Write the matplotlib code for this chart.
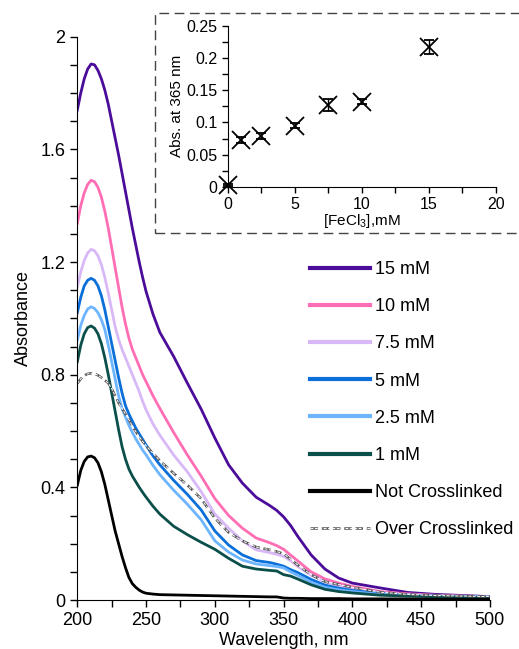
import numpy as np
import matplotlib
matplotlib.use("Agg")
import matplotlib.pyplot as plt
from matplotlib.patches import Rectangle
from matplotlib.ticker import MultipleLocator

plt.rcParams['font.family'] = ['Liberation Sans', 'DejaVu Sans']
plt.rcParams['mathtext.fontset'] = 'custom'
plt.rcParams['mathtext.rm'] = 'Liberation Sans'

# spectra
wavelength = [200, 202.5, 205, 207.5, 210, 212.5, 215, 217.5, 220, 222.5, 225, 227.5, 230,
              232.5, 235, 237.5, 240, 242.5, 245, 247.5, 250, 255,
              260, 270, 280, 290, 300, 310, 320, 330, 340, 345, 350, 355, 360, 370, 380,
              390, 400, 420, 440, 460, 480, 500]

abs_15 = [1.74, 1.80, 1.85, 1.885, 1.903, 1.90, 1.88, 1.85, 1.81, 1.76, 1.70, 1.64, 1.58,
          1.515, 1.45, 1.385, 1.32, 1.26, 1.20, 1.145, 1.095, 1.015,
          0.95, 0.865, 0.77, 0.678, 0.575, 0.48, 0.415, 0.365, 0.335, 0.318, 0.295, 0.265, 0.228, 0.16, 0.11,
          0.078, 0.06, 0.043, 0.027, 0.02, 0.016, 0.012]
abs_10 = [1.337, 1.40, 1.445, 1.475, 1.49, 1.485, 1.465, 1.43, 1.38, 1.32, 1.25, 1.18, 1.11,
          1.04, 0.98, 0.93, 0.89, 0.86, 0.83, 0.80, 0.775, 0.725,
          0.68, 0.595, 0.515, 0.44, 0.36, 0.30, 0.255, 0.22, 0.203, 0.193, 0.18, 0.16, 0.14, 0.10, 0.075,
          0.06, 0.048, 0.03, 0.022, 0.017, 0.014, 0.012]
abs_7_5 = [1.112, 1.165, 1.205, 1.232, 1.245, 1.24, 1.222, 1.19, 1.145, 1.09, 1.03, 0.97, 0.925,
           0.89, 0.86, 0.83, 0.80, 0.77, 0.74, 0.705, 0.675, 0.625,
           0.585, 0.515, 0.455, 0.385, 0.305, 0.255, 0.21, 0.178, 0.168, 0.162, 0.155, 0.14, 0.12, 0.088, 0.065,
           0.05, 0.04, 0.026, 0.019, 0.015, 0.013, 0.011]
abs_5 = [1.02, 1.075, 1.115, 1.135, 1.142, 1.135, 1.115, 1.08, 1.03, 0.97, 0.91, 0.85, 0.79,
         0.735, 0.69, 0.66, 0.635, 0.61, 0.59, 0.57, 0.55, 0.512,
         0.48, 0.425, 0.375, 0.32, 0.245, 0.195, 0.16, 0.14, 0.133, 0.127, 0.12, 0.108, 0.098, 0.073, 0.053,
         0.042, 0.034, 0.023, 0.017, 0.014, 0.012, 0.01]
abs_2_5 = [0.923, 0.975, 1.01, 1.033, 1.041, 1.035, 1.02, 0.995, 0.96, 0.905, 0.845, 0.785, 0.725,
           0.68, 0.65, 0.62, 0.595, 0.572, 0.552, 0.532, 0.515, 0.478,
           0.445, 0.39, 0.34, 0.285, 0.21, 0.17, 0.142, 0.128, 0.122, 0.119, 0.114, 0.10, 0.088, 0.063, 0.045,
           0.036, 0.03, 0.02, 0.016, 0.013, 0.011, 0.01]
abs_1 = [0.846, 0.905, 0.945, 0.967, 0.973, 0.965, 0.945, 0.91, 0.86, 0.80, 0.735, 0.67, 0.605,
         0.545, 0.50, 0.465, 0.44, 0.42, 0.40, 0.382, 0.365, 0.333,
         0.305, 0.262, 0.232, 0.205, 0.18, 0.148, 0.12, 0.11, 0.105, 0.103, 0.09, 0.085, 0.075, 0.054, 0.038,
         0.03, 0.025, 0.017, 0.014, 0.012, 0.01, 0.009]
abs_not = [0.408, 0.46, 0.492, 0.508, 0.511, 0.505, 0.487, 0.455, 0.41, 0.355, 0.30, 0.245, 0.20,
           0.155, 0.115, 0.08, 0.058, 0.045, 0.035, 0.028, 0.024, 0.021,
           0.019, 0.018, 0.017, 0.016, 0.015, 0.014, 0.013, 0.012, 0.011, 0.011, 0.007, 0.006, 0.006, 0.005,
           0.005, 0.005, 0.004, 0.004, 0.004, 0.003, 0.003, 0.003]
abs_over = [0.769, 0.785, 0.797, 0.803, 0.805, 0.803, 0.798, 0.79, 0.78, 0.77, 0.75, 0.725, 0.70,
            0.68, 0.66, 0.64, 0.618, 0.598, 0.58, 0.563, 0.548, 0.52,
            0.495, 0.45, 0.408, 0.36, 0.29, 0.24, 0.21, 0.188, 0.178, 0.172, 0.164, 0.145, 0.125, 0.09, 0.065,
            0.055, 0.045, 0.028, 0.02, 0.016, 0.014, 0.012]

labels = ["15 mM", "10 mM", "7.5 mM", "5 mM", "2.5 mM", "1 mM", "Not Crosslinked"]
colors = ["#4B0C99", "#FF6EB4", "#D9B8F7", "#0A6FD8", "#6DB6FF", "#0B4F4B", "#000000"]

# inset: absorbance at 365 nm
fecl3 = [0, 1, 2.5, 5, 7.5, 10, 15]
abs_365 = [0.003, 0.073, 0.079, 0.095, 0.127, 0.132, 0.218]
abs_365_err = [0.002, 0.005, 0.004, 0.004, 0.009, 0.004, 0.011]

fig = plt.figure(figsize=(5.19, 6.49), dpi=100)
ax = fig.add_axes([0.149, 0.0755, 0.795, 0.868])

handles = []
for y, lab, c in zip([abs_15, abs_10, abs_7_5, abs_5, abs_2_5, abs_1, abs_not], labels, colors):
    h, = ax.plot(wavelength, y, color=c, lw=2.0, label=lab, solid_joinstyle='round')
    handles.append(h)
over_a, = ax.plot(wavelength, abs_over, color='#555555', lw=1.8, ls=(0, (3, 1.5)))
over_b, = ax.plot(wavelength, abs_over, color='white', lw=0.7, ls=(0, (3, 1.5)))

ax.set_xlim(200, 500)
ax.set_ylim(0, 2)
ax.xaxis.set_major_locator(MultipleLocator(50))
ax.xaxis.set_minor_locator(MultipleLocator(25))
ax.yaxis.set_major_locator(MultipleLocator(0.4))
ax.yaxis.set_minor_locator(MultipleLocator(0.1))
ax.yaxis.set_major_formatter(plt.FuncFormatter(lambda v, p: f"{v:g}"))
ax.tick_params(which='both', direction='out', length=5, width=1, labelsize=13)
ax.spines['top'].set_visible(False)
ax.spines['right'].set_visible(False)
ax.set_xlabel("Wavelength, nm", fontsize=13, labelpad=2)
ax.set_ylabel("Absorbance", fontsize=13, labelpad=6)

leg = fig.legend(handles + [(over_a, over_b)], labels + ["Over Crosslinked"],
                 loc='upper left', bbox_to_anchor=(0.598, 0.598), frameon=False,
                 fontsize=13, handlelength=3.3, handletextpad=0.3, labelspacing=1.12,
                 borderpad=0, borderaxespad=0)
for h in leg.legend_handles[:-1]:
    h.set_linewidth(3)

# dashed frame round the inset
fig.patches.append(Rectangle((0.299, 0.641), 0.75, 0.339, transform=fig.transFigure,
                             fill=False, ec='#444444', lw=1.0, ls=(0, (7, 4))))

ins = fig.add_axes([0.4393, 0.7123, 0.5158, 0.2476])
ins.patch.set_alpha(0)
ins.errorbar(fecl3, abs_365, yerr=abs_365_err, fmt='x', color='black', ms=13, mew=1.3,
             elinewidth=1, capsize=3.5, capthick=1, clip_on=False)
ins.set_xlim(0, 20)
ins.set_ylim(0, 0.25)
ins.xaxis.set_major_locator(MultipleLocator(5))
ins.xaxis.set_minor_locator(MultipleLocator(2.5))
ins.yaxis.set_major_locator(MultipleLocator(0.05))
ins.yaxis.set_minor_locator(MultipleLocator(0.025))
ins.yaxis.set_major_formatter(plt.FuncFormatter(lambda v, p: f"{v:g}"))
ins.tick_params(which='both', direction='out', length=4, width=1, labelsize=11.5)
ins.spines['top'].set_visible(False)
ins.spines['right'].set_visible(False)
ins.set_xlabel("[FeCl$_3$],mM", fontsize=11, labelpad=0)
ins.set_ylabel("Abs. at 365 nm", fontsize=11, labelpad=2)

fig.savefig("out.png", dpi=100)
